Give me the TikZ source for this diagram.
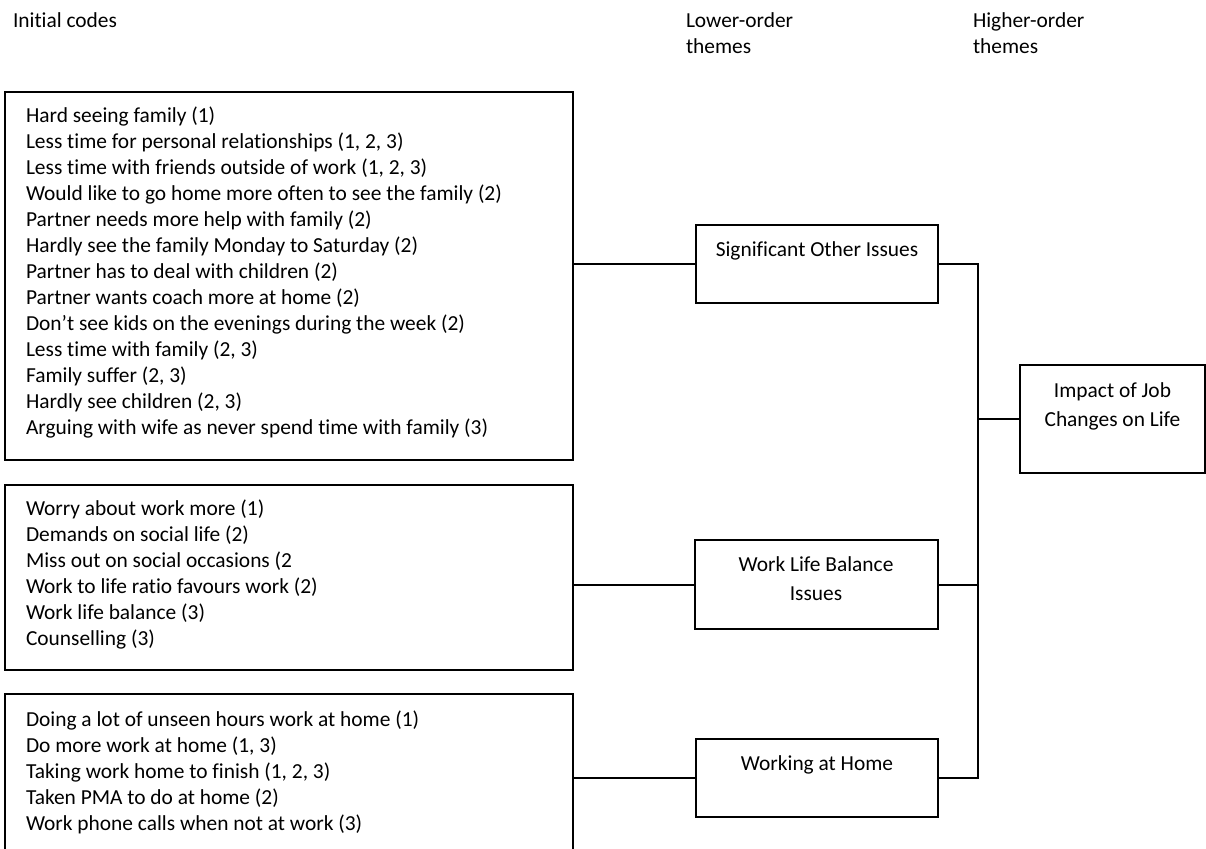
\documentclass[tikz,border=0pt]{standalone}
\usepackage{fontspec}
\setmainfont{Carlito}[Ligatures={NoCommon}]
\usetikzlibrary{calc}
\newcommand{\firstst}{\rule{0pt}{9pt}}
\begin{document}
\begin{tikzpicture}[x=0.5pt,y=-0.5pt,
  every node/.style={inner sep=0pt, outer sep=0pt},
  box/.style={draw, line width=1pt, rectangle, anchor=north west},
  codes/.style={anchor=north west, align=left, font=\fontsize{10.7pt}{13pt}\selectfont},
  themetext/.style={anchor=north, align=center, font=\fontsize{10.7pt}{14.75pt}\selectfont},
  header/.style={anchor=north west, align=left, font=\fontsize{10.7pt}{13pt}\selectfont},
  link/.style={line width=1pt}]
\useasboundingbox (0,0) rectangle (1206,848);
\clip (0,0) rectangle (1206,848);

% headers
\node[header] (h1) at (13,9) {\firstst Initial codes};
\node[header] (h2) at (686,9) {\firstst Lower-order\\themes};
\node[header] (h3) at (973,9) {\firstst Higher-order\\themes};

% initial code boxes
\node[box, minimum width=284.25pt, minimum height=184pt] (b1) at (4.5,92) {};
\node[codes] (t1) at (26,104) {\firstst Hard seeing family (1)\\
Less time for personal relationships (1, 2, 3)\\
Less time with friends outside of work (1, 2, 3)\\
Would like to go home more often to see the family (2)\\
Partner needs more help with family (2)\\
Hardly see the family Monday to Saturday (2)\\
Partner has to deal with children (2)\\
Partner wants coach more at home (2)\\
Don’t see kids on the evenings during the week (2)\\
Less time with family (2, 3)\\
Family suffer (2, 3)\\
Hardly see children (2, 3)\\
Arguing with wife as never spend time with family (3)};

\node[box, minimum width=284.25pt, minimum height=92.5pt] (b2) at (4.5,485) {};
\node[codes] (t2) at (26,497) {\firstst Worry about work more (1)\\
Demands on social life (2)\\
Miss out on social occasions (2\\
Work to life ratio favours work (2)\\
Work life balance (3)\\
Counselling (3)};

\node[box, minimum width=284.25pt, minimum height=85pt] (b3) at (4.5,694) {};
\node[codes] (t3) at (26,708) {\firstst Doing a lot of unseen hours work at home (1)\\
Do more work at home (1, 3)\\
Taking work home to finish (1, 2, 3)\\
Taken PMA to do at home (2)\\
Work phone calls when not at work (3)};

% lower-order themes
\node[box, minimum width=121pt, minimum height=39pt] (soi) at (696,225) {};
\node[themetext] (soit) at (817,238) {\firstst Significant Other Issues};
\node[box, minimum width=121.5pt, minimum height=44.5pt] (wlb) at (695,540) {};
\node[themetext] (wlbt) at (816,553) {\firstst Work Life Balance\\Issues};
\node[box, minimum width=121pt, minimum height=39pt] (wah) at (696,739) {};
\node[themetext] (waht) at (817,752) {\firstst Working at Home};

% higher-order theme
\node[box, minimum width=92.5pt, minimum height=54pt] (imp) at (1020,365) {};
\node[themetext] (impt) at (1112.5,379) {\firstst Impact of Job\\Changes on Life};

% connectors
\coordinate (bus) at (978,0);
\draw[link] (b1.east |- soi.west) -- (soi.west);
\draw[link] (b2.east |- wlb.west) -- (wlb.west);
\draw[link] (b3.east |- wah.west) -- (wah.west);
\draw[link] (soi.east) -- (soi.east -| bus) -- (wah.east -| bus) -- (wah.east);
\draw[link] (wlb.east) -- (wlb.east -| bus);
\draw[link] (imp.west) -- (imp.west -| bus);
\end{tikzpicture}
\end{document}
